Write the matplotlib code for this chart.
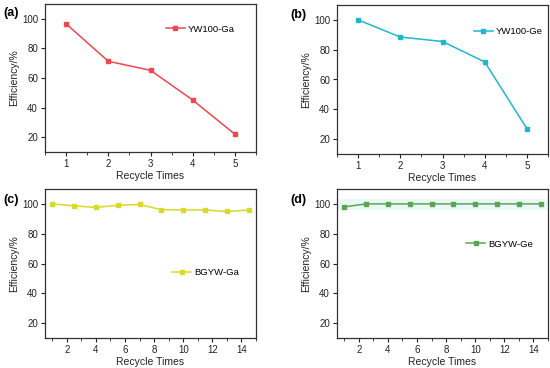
import matplotlib
matplotlib.use("Agg")
import matplotlib.pyplot as plt
from matplotlib.ticker import MultipleLocator

plt.rcParams['font.family'] = ['Liberation Sans', 'DejaVu Sans']

x_ab = [1, 2, 3, 4, 5]
ga_yw100 = [96.6, 71.3, 65.2, 45.1, 22.0]
ge_yw100 = [100.0, 88.5, 85.5, 71.8, 27.0]

x_cd = [1, 2.5, 4, 5.5, 7, 8.5, 10, 11.5, 13, 14.5]
ga_bgyw = [100.0, 98.7, 97.6, 99.1, 99.6, 96.1, 96.0, 95.9, 94.9, 95.9]
ge_bgyw = [98.0, 100.0, 100.0, 100.0, 100.0, 100.0, 100.0, 100.0, 100.0, 100.0]

labels = ["(a)", "(b)", "(c)", "(d)"]
names = ["YW100-Ga", "YW100-Ge", "BGYW-Ga", "BGYW-Ge"]
colors = ["#f0474f", "#1fb8cf", "#d9d92a", "#5fa454"]

W, H = 550, 368
fig = plt.figure(figsize=(5.5, 3.68), dpi=100)

boxes = [(45, 256, 4, 152), (337, 548, 5, 154), (45, 256, 189, 338), (337, 548, 189, 338)]
datas = [(x_ab, ga_yw100), (x_ab, ge_yw100), (x_cd, ga_bgyw), (x_cd, ge_bgyw)]
legpos = [(0.555, 0.83), (0.63, 0.82), (0.585, 0.44), (0.595, 0.63)]
labpos = [(3, 13), (290, 15), (3, 200), (290, 200)]

for i in range(4):
    l, r, t, b = boxes[i]
    ax = fig.add_axes([l / W, (H - b) / H, (r - l) / W, (b - t) / H])
    xs, ys = datas[i]
    if i == 3:
        ax.axhspan(96, 103, color="#eaf8f8", zorder=0, lw=0)
    ax.plot(xs, ys, color=colors[i], marker="s", markersize=2.5, lw=1.1, label=names[i])
    ax.set_ylim(10, 110)
    ax.set_yticks([20, 40, 60, 80, 100])
    if i < 2:
        ax.set_xlim(0.5, 5.5)
        ax.set_xticks([1, 2, 3, 4, 5])
        ax.xaxis.set_minor_locator(MultipleLocator(0.5))
    else:
        ax.set_xlim(0.5, 15)
        ax.set_xticks([2, 4, 6, 8, 10, 12, 14])
        ax.xaxis.set_minor_locator(MultipleLocator(1))
    ax.tick_params(axis="both", which="major", direction="out", length=3, width=0.8,
                   labelsize=7, colors="#222222", pad=2)
    ax.tick_params(axis="x", which="minor", direction="out", length=1.8, width=0.6, colors="#222222")
    for s in ax.spines.values():
        s.set_color("#333333")
        s.set_linewidth(0.9)
    ax.set_xlabel("Recycle Times", fontsize=7.5, labelpad=1.5, color="#222222")
    ax.set_ylabel("Efficiency/%", fontsize=7.5, labelpad=2, color="#222222")
    ax.legend(loc="center left", bbox_to_anchor=legpos[i], frameon=False,
              fontsize=6.8, handlelength=2.0, handletextpad=0.3, borderaxespad=0)
    fig.text(labpos[i][0] / W, 1 - labpos[i][1] / H, labels[i], fontsize=9, fontweight="bold",
             ha="left", va="center")

fig.savefig("out.png", dpi=100)
